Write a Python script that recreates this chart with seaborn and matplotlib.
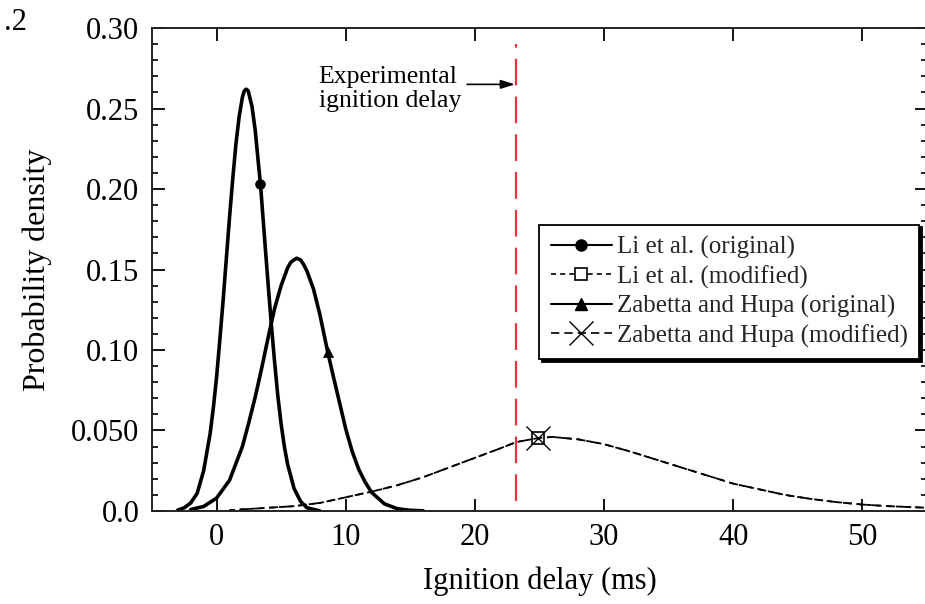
import matplotlib
matplotlib.use("Agg")
import matplotlib.pyplot as plt
from matplotlib.lines import Line2D
from matplotlib.ticker import MultipleLocator
import seaborn as sns

# ---- data ----
li_orig_x = [-3, -2.5, -2, -1.5, -1, -0.5, -0.25, 0, 0.25, 0.5, 0.75, 1, 1.25, 1.5, 1.75, 2, 2.15, 2.3, 2.45,
             2.75, 3, 3.25, 3.4, 3.75, 4, 4.25, 4.5, 4.75, 5, 5.25, 5.5, 6, 6.5, 7, 7.5, 8]
li_orig_y = [0.0006, 0.002, 0.005, 0.011, 0.025, 0.048, 0.064, 0.083, 0.106, 0.13, 0.156, 0.182, 0.206, 0.228,
             0.245, 0.257, 0.261, 0.262, 0.261, 0.251, 0.236, 0.215, 0.203, 0.166, 0.14, 0.115, 0.092, 0.071,
             0.054, 0.040, 0.029, 0.014, 0.006, 0.002, 0.001, 0.0]
li_orig_mark = 22  # index of the marker point (3.4, 0.203)

zh_orig_x = [-2, -1, 0, 1, 2, 2.5, 3, 3.5, 4, 4.5, 5, 5.5, 5.75, 6, 6.2, 6.5, 6.75, 7, 7.5, 8, 8.6, 9, 9.5, 10,
             10.5, 11, 11.5, 12, 13, 14, 15, 16]
zh_orig_y = [0.0009, 0.0028, 0.008, 0.019, 0.040, 0.055, 0.071, 0.089, 0.108, 0.126, 0.140, 0.151, 0.1545, 0.156,
             0.157, 0.156, 0.153, 0.149, 0.138, 0.122, 0.099, 0.085, 0.068, 0.051, 0.037, 0.026, 0.018, 0.0116,
             0.0044, 0.0014, 0.0004, 0.0001]
zh_orig_mark = 20  # (8.6, 0.099)

mod_x = [1, 2, 4, 6, 8, 10, 12, 14, 16, 18, 20, 22, 23.2, 24.9, 26, 28, 30, 32, 34, 36, 38, 40, 42, 44, 46, 48, 50, 52, 55]
li_mod_y = [0.0005, 0.001, 0.002, 0.003, 0.005, 0.0085, 0.012, 0.016, 0.021, 0.027, 0.033, 0.039, 0.0428, 0.0453, 0.046,
            0.0445, 0.0415, 0.037, 0.032, 0.027, 0.022, 0.017, 0.0135, 0.010, 0.0075, 0.0055, 0.004, 0.003, 0.002]
zh_mod_y = [0.0005, 0.001, 0.002, 0.003, 0.005, 0.0085, 0.012, 0.016, 0.021, 0.027, 0.033, 0.039, 0.0428, 0.0453, 0.046,
            0.0445, 0.0415, 0.037, 0.032, 0.027, 0.022, 0.017, 0.0135, 0.010, 0.0075, 0.0055, 0.004, 0.003, 0.002]
mod_mark = 13  # (24.9, 0.0453)

exp_delay = 23.2
labels = ["Li et al. (original)", "Li et al. (modified)",
          "Zabetta and Hupa (original)", "Zabetta and Hupa (modified)"]
x_ticks = [0, 10, 20, 30, 40, 50]
y_ticks = [0.0, 0.05, 0.10, 0.15, 0.20, 0.25, 0.30]
y_tick_labels = ["0.0", "0.050", "0.10", "0.15", "0.20", "0.25", "0.30"]

# ---- style ----
sns.set_theme(style="ticks")
plt.rcParams["font.family"] = ["Liberation Serif", "DejaVu Serif"]
plt.rcParams["mathtext.fontset"] = "stix"

fig = plt.figure(figsize=(9.25, 6.04), dpi=100)
ax = fig.add_axes([0.1643, 0.154, 0.8378, 0.7996])

# curves
common = dict(ax=ax, color="black", sort=False, legend=False, mec="black",
              solid_joinstyle="round", dash_joinstyle="round")
sns.lineplot(x=li_orig_x, y=li_orig_y, lw=2.6, marker="o", ms=7, mew=0.5,
             markevery=[li_orig_mark], **common)
sns.lineplot(x=zh_orig_x, y=zh_orig_y, lw=2.6, marker="^", ms=7, mew=0.5,
             markevery=[zh_orig_mark], **common)
sns.lineplot(x=mod_x, y=li_mod_y, lw=1.3, linestyle=(0, (3, 2.5)),
             marker="s", ms=9, mfc="white", mew=1.2,
             markevery=[mod_mark], **common)
sns.lineplot(x=mod_x, y=zh_mod_y, lw=1.3, linestyle=(2, (5, 3)),
             marker="x", ms=17, mew=1.0, markevery=[mod_mark], **common)

# experimental ignition delay
ax.vlines(exp_delay, 0.006, 0.29, colors="#e8323c", lw=1.6, linestyles=[(0, (12, 5))])
ax.text(7.9, 0.262, "Experimental\nignition delay", fontsize=18.5, ha="left", va="center",
        linespacing=1.1, color="black")
ax.annotate("", xy=(exp_delay - 0.1, 0.265), xytext=(19.4, 0.265),
            arrowprops=dict(arrowstyle="-|>,head_length=0.7,head_width=0.22", color="black",
                            lw=1.2, shrinkA=0, shrinkB=0))

# axes
ax.set_xlim(-5, 55)
ax.set_ylim(0, 0.30)
ax.set_xticks(x_ticks)
ax.set_xticklabels([str(t) for t in x_ticks])
ax.set_yticks(y_ticks)
ax.set_yticklabels(y_tick_labels)
ax.yaxis.set_minor_locator(MultipleLocator(0.01))
ax.tick_params(axis="both", which="both", direction="in", top=True, right=True,
               labelsize=22, colors="black")
ax.tick_params(axis="both", which="major", length=9, width=1.3)
ax.tick_params(axis="y", which="minor", length=4.5, width=1.2)
ax.tick_params(axis="x", which="minor", length=0)
ax.tick_params(axis="y", which="major", pad=9)
ax.tick_params(axis="x", which="major", pad=9)
for s in ax.spines.values():
    s.set_color("#222222")
    s.set_linewidth(1.4)
    s.set_visible(True)
ax.set_xlabel("Ignition delay (ms)", fontsize=22, labelpad=10, color="black")
ax.set_ylabel("Probability density", fontsize=23, labelpad=14, color="black")

# legend
handles = [
    Line2D([], [], color="black", lw=1.5, marker="o", ms=8),
    Line2D([], [], color="black", lw=1.2, linestyle=(0, (3, 2.5)), marker="s", ms=8,
           mfc="white", mec="black", mew=1.2),
    Line2D([], [], color="black", lw=1.5, marker="^", ms=8),
    Line2D([], [], color="black", lw=1.2, linestyle=(0, (5, 3)), marker="x", ms=17, mew=1.0),
]
leg = ax.legend(handles, labels, loc="upper left", bbox_to_anchor=(0.500, 0.593),
                borderaxespad=0, fontsize=18, frameon=True, fancybox=False,
                shadow={"color": "black", "alpha": 1.0}, edgecolor="black", framealpha=1,
                handlelength=2.45, handletextpad=0.2, labelspacing=0.25, borderpad=0.45,
                numpoints=1)
leg.get_frame().set_linewidth(1.3)

fig.text(0.004, 0.963, ".2", fontsize=22, ha="left", va="center", color="black")

fig.savefig("out.png", dpi=100)
